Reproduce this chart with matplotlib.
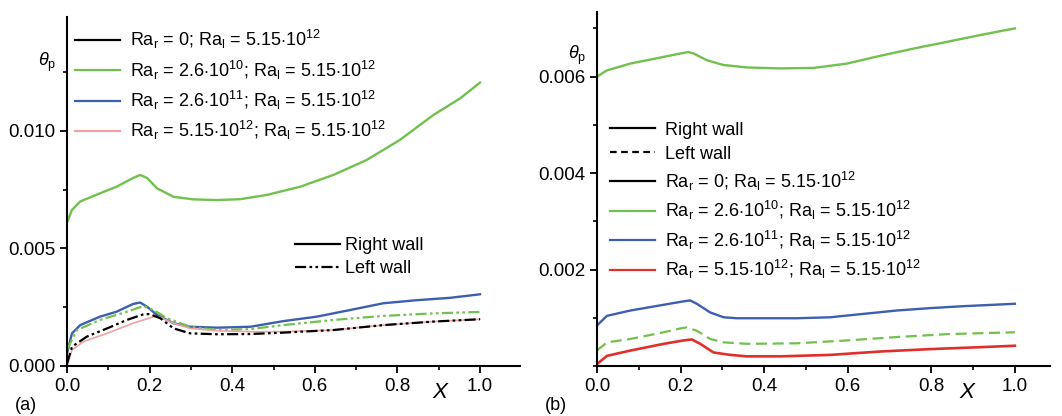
import numpy as np
import matplotlib.pyplot as plt
from matplotlib.lines import Line2D
from matplotlib.ticker import MultipleLocator

plt.rcParams['font.family'] = ['Liberation Sans', 'DejaVu Sans']
plt.rcParams['mathtext.fontset'] = 'custom'
plt.rcParams['mathtext.rm'] = 'Liberation Sans'
plt.rcParams['mathtext.it'] = 'Liberation Sans:italic'

# panel (a)
xa_green = [0.0, 0.012, 0.032, 0.08, 0.12, 0.16, 0.177, 0.194, 0.218, 0.258, 0.306,
            0.363, 0.42, 0.484, 0.565, 0.645, 0.726, 0.806, 0.887, 0.952, 1.0]
ya_green = [0.0061, 0.00664, 0.0070, 0.00735, 0.00763, 0.0080, 0.00813, 0.0080, 0.00756,
            0.0072, 0.00709, 0.00706, 0.0071, 0.00728, 0.00763, 0.00813, 0.00877, 0.00962,
            0.01068, 0.01139, 0.01206]

xa_blue = [0.0, 0.012, 0.032, 0.08, 0.12, 0.16, 0.177, 0.194, 0.218, 0.258, 0.298, 0.363,
           0.444, 0.524, 0.605, 0.685, 0.766, 0.847, 0.927, 1.0]
ya_blue = [0.00054, 0.00139, 0.00174, 0.0021, 0.00231, 0.00264, 0.0027, 0.00252, 0.00217,
           0.00182, 0.00167, 0.00163, 0.00167, 0.00191, 0.0021, 0.00238, 0.00267, 0.0028,
           0.0029, 0.00305]

xa_green_l = [0.0, 0.024, 0.08, 0.145, 0.185, 0.21, 0.242, 0.298, 0.363, 0.444, 0.524,
              0.645, 0.766, 0.887, 1.0]
ya_green_l = [0.0007, 0.00153, 0.00196, 0.00231, 0.00255, 0.00238, 0.00203, 0.00167,
              0.00153, 0.00157, 0.00174, 0.00196, 0.00213, 0.00224, 0.0023]

xa_black_l = [0.0, 0.012, 0.048, 0.097, 0.145, 0.185, 0.2, 0.226, 0.258, 0.298, 0.363,
              0.444, 0.524, 0.645, 0.766, 0.887, 1.0]
ya_black_l = [0.0001, 0.00082, 0.00125, 0.0016, 0.00196, 0.0022, 0.00221, 0.00203, 0.0016,
              0.00139, 0.00135, 0.00136, 0.00142, 0.00153, 0.00174, 0.00189, 0.00199]

xa_red = [0.0, 0.012, 0.04, 0.097, 0.16, 0.21, 0.226, 0.258, 0.298, 0.363, 0.444, 0.524,
          0.645, 0.766, 0.887, 1.0]
ya_red = [0.0, 0.00068, 0.00104, 0.00139, 0.00182, 0.0021, 0.00207, 0.00182, 0.0016,
          0.0015, 0.00146, 0.00146, 0.00153, 0.00174, 0.00189, 0.00199]

# panel (b)
xb_green = [0.0, 0.024, 0.08, 0.16, 0.2, 0.219, 0.231, 0.263, 0.303, 0.359, 0.438, 0.518,
            0.598, 0.677, 0.757, 0.837, 0.916, 1.0]
yb_green = [0.0060, 0.00613, 0.00627, 0.00641, 0.00648, 0.00651, 0.00648, 0.00634, 0.00624,
            0.00619, 0.00617, 0.00618, 0.00627, 0.00643, 0.00658, 0.00672, 0.00686, 0.0070]

xb_blue = [0.0, 0.024, 0.08, 0.16, 0.207, 0.223, 0.239, 0.271, 0.303, 0.335, 0.398, 0.478,
           0.558, 0.637, 0.717, 0.797, 0.876, 1.0]
yb_blue = [0.00084, 0.00104, 0.00115, 0.00127, 0.00134, 0.00136, 0.00129, 0.00111, 0.00101,
           0.00099, 0.00099, 0.00099, 0.00101, 0.00108, 0.00115, 0.0012, 0.00124, 0.00129]

xb_green_l = [0.0, 0.024, 0.08, 0.16, 0.2, 0.215, 0.239, 0.271, 0.303, 0.359, 0.478, 0.598,
              0.717, 0.837, 1.0]
yb_green_l = [0.00032, 0.00049, 0.00056, 0.0007, 0.00078, 0.0008, 0.00073, 0.00056, 0.00049,
              0.00046, 0.00047, 0.00053, 0.0006, 0.00066, 0.0007]

xb_red = [0.0, 0.024, 0.08, 0.16, 0.207, 0.227, 0.247, 0.279, 0.319, 0.359, 0.438, 0.558,
          0.677, 0.797, 0.916, 1.0]
yb_red = [0.00004, 0.00021, 0.00032, 0.00046, 0.00053, 0.00055, 0.00046, 0.00028, 0.00023,
          0.0002, 0.0002, 0.00023, 0.0003, 0.00035, 0.00039, 0.00042]

labels = [r'Ra$_\mathregular{r}$ = 0; Ra$_\mathregular{l}$ = 5.15$\cdot$10$^\mathregular{12}$',
          r'Ra$_\mathregular{r}$ = 2.6$\cdot$10$^\mathregular{10}$; Ra$_\mathregular{l}$ = 5.15$\cdot$10$^\mathregular{12}$',
          r'Ra$_\mathregular{r}$ = 2.6$\cdot$10$^\mathregular{11}$; Ra$_\mathregular{l}$ = 5.15$\cdot$10$^\mathregular{12}$',
          r'Ra$_\mathregular{r}$ = 5.15$\cdot$10$^\mathregular{12}$; Ra$_\mathregular{l}$ = 5.15$\cdot$10$^\mathregular{12}$']

GREEN = '#72c04e'
BLUE = '#3c5fb0'
RED = '#e0302c'
PINK = '#f2a0a4'
dashdotdot = (0, (5, 1.5, 1.2, 1.5, 1.2, 1.5))

fig = plt.figure(figsize=(10.62, 4.16), dpi=100)
ax1 = fig.add_axes([0.0631, 0.1202, 0.4266, 0.8389])
ax2 = fig.add_axes([0.5621, 0.1202, 0.4266, 0.851])

for ax in (ax1, ax2):
    ax.spines['top'].set_visible(False)
    ax.spines['right'].set_visible(False)
    ax.spines['left'].set_linewidth(1.5)
    ax.spines['bottom'].set_linewidth(1.5)
    ax.xaxis.set_major_locator(MultipleLocator(0.2))
    ax.xaxis.set_minor_locator(MultipleLocator(0.1))
    ax.tick_params(which='major', direction='out', length=5, width=1.3, labelsize=13.5)
    ax.tick_params(which='minor', direction='out', length=3, width=1.2)
    ax.set_xticks([0.0, 0.2, 0.4, 0.6, 0.8, 1.0])

# (a)
ax1.plot(xa_green, ya_green, color=GREEN, lw=1.7)
ax1.plot(xa_blue, ya_blue, color=BLUE, lw=1.7)
ax1.plot(xa_green_l, ya_green_l, color=GREEN, lw=1.6, ls=dashdotdot)
ax1.plot(xa_red, ya_red, color=PINK, lw=1.2)
ax1.plot(xa_black_l, ya_black_l, color='black', lw=1.6, ls=dashdotdot)
ax1.set_xlim(0, 1.097)
ax1.set_ylim(0, 0.01485)
ax1.yaxis.set_major_locator(MultipleLocator(0.005))
ax1.yaxis.set_minor_locator(MultipleLocator(0.0025))
ax1.yaxis.set_major_formatter(plt.FormatStrFormatter('%.3f'))

h1 = [Line2D([], [], color=c, lw=1.6) for c in ['black', GREEN, BLUE, PINK]]
leg1 = ax1.legend(h1, labels, loc='upper left', bbox_to_anchor=(0.018, 0.968),
                  frameon=False, fontsize=13, handlelength=2.5, handletextpad=0.55,
                  borderpad=0, borderaxespad=0, labelspacing=0.4)
ax1.add_artist(leg1)
h2 = [Line2D([], [], color='black', lw=1.6), Line2D([], [], color='black', lw=1.6, ls=dashdotdot)]
ax1.legend(h2, ['Right wall', 'Left wall'], loc='upper left', bbox_to_anchor=(0.503, 0.37),
           frameon=False, fontsize=13, handlelength=2.5, handletextpad=0.3,
           borderpad=0, borderaxespad=0, labelspacing=0.35)
ax1.text(-0.044, 0.871, r'$\theta_\mathregular{p}$', transform=ax1.transAxes,
         fontsize=13, ha='center', va='center')
ax1.text(0.823, -0.077, 'X', transform=ax1.transAxes, fontsize=16, style='italic',
         ha='center', va='center')
fig.text(0.014, 0.026, '(a)', fontsize=13, ha='left', va='center')

# (b)
ax2.plot(xb_green, yb_green, color=GREEN, lw=1.7)
ax2.plot(xb_blue, yb_blue, color=BLUE, lw=1.7)
ax2.plot(xb_green_l, yb_green_l, color=GREEN, lw=1.6, ls=(0, (5, 2.5)))
ax2.plot(xb_red, yb_red, color=RED, lw=1.9)
ax2.set_xlim(0, 1.084)
ax2.set_ylim(0, 0.00734)
ax2.yaxis.set_major_locator(MultipleLocator(0.002))
ax2.yaxis.set_minor_locator(MultipleLocator(0.001))
ax2.set_yticks([0.002, 0.004, 0.006])
ax2.yaxis.set_major_formatter(plt.FormatStrFormatter('%.3f'))

h3 = [Line2D([], [], color='black', lw=1.6), Line2D([], [], color='black', lw=1.6, ls=(0, (3, 2)))]
leg3 = ax2.legend(h3, ['Right wall', 'Left wall'], loc='upper left', bbox_to_anchor=(0.029, 0.69),
                  frameon=False, fontsize=13, handlelength=2.5, handletextpad=0.55,
                  borderpad=0, borderaxespad=0, labelspacing=0.38)
ax2.add_artist(leg3)
h4 = [Line2D([], [], color=c, lw=1.6) for c in ['black', GREEN, BLUE, RED]]
ax2.legend(h4, labels, loc='upper left', bbox_to_anchor=(0.029, 0.555),
           frameon=False, fontsize=13, handlelength=2.5, handletextpad=0.55,
           borderpad=0, borderaxespad=0, labelspacing=0.36)
ax2.text(-0.044, 0.878, r'$\theta_\mathregular{p}$', transform=ax2.transAxes,
         fontsize=13, ha='center', va='center')
ax2.text(0.817, -0.076, 'X', transform=ax2.transAxes, fontsize=16, style='italic',
         ha='center', va='center')
fig.text(0.513, 0.026, '(b)', fontsize=13, ha='left', va='center')

fig.savefig('out.png', dpi=100)
